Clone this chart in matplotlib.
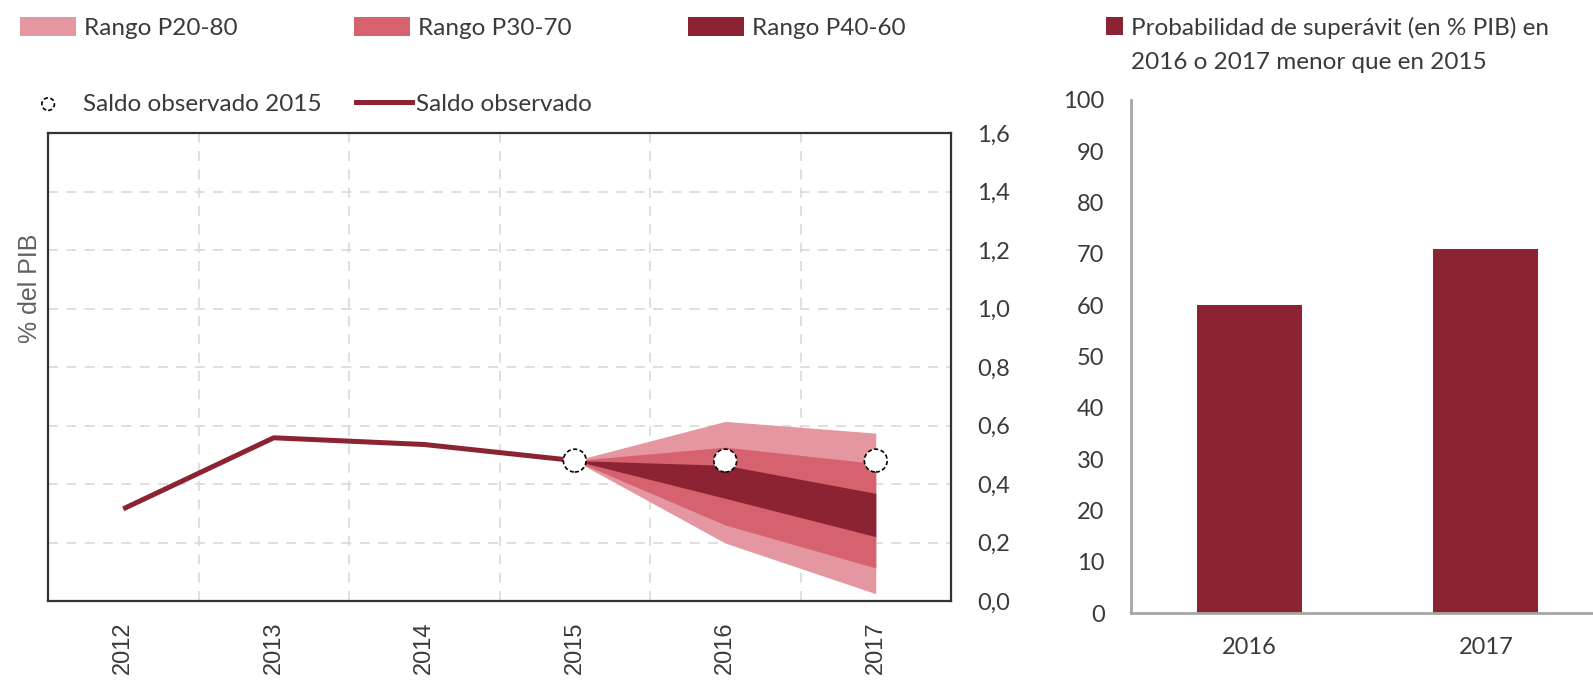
import matplotlib
matplotlib.use("Agg")
import matplotlib.pyplot as plt
from matplotlib.patches import Patch, Rectangle
from matplotlib.lines import Line2D
from matplotlib.legend_handler import HandlerBase

plt.rcParams['font.family'] = ['Lato', 'DejaVu Sans']

# ---------------- data ----------------
years_obs = [2012, 2013, 2014, 2015]
saldo_obs = [0.315, 0.558, 0.535, 0.48]

fan_years = [2015, 2016, 2017]
p20 = [0.48, 0.198, 0.025]
p30 = [0.48, 0.260, 0.113]
p40 = [0.48, 0.351, 0.220]
p60 = [0.48, 0.464, 0.368]
p70 = [0.48, 0.526, 0.470]
p80 = [0.48, 0.614, 0.574]

circle_years = [2015, 2016, 2017]
circle_vals = [0.48, 0.48, 0.48]

year_labels = ["2012", "2013", "2014", "2015", "2016", "2017"]
yticks_left = [0.0, 0.2, 0.4, 0.6, 0.8, 1.0, 1.2, 1.4, 1.6]
yticklabels_left = ["0,0", "0,2", "0,4", "0,6", "0,8", "1,0", "1,2", "1,4", "1,6"]

bar_cats = ["2016", "2017"]
bar_vals = [60, 71]
yticks_right = [0, 10, 20, 30, 40, 50, 60, 70, 80, 90, 100]

# ---------------- style ----------------
LIGHT = "#E497A0"
MED = "#D6616F"
DARK = "#8B2332"
TXT = "#3a3a3a"
W, H = 1593, 689

fig = plt.figure(figsize=(W / 100, H / 100), dpi=100)

# ---------------- left chart ----------------
axL = fig.add_axes([48 / W, 1 - 601 / H, (951 - 48) / W, (601 - 133) / H])
axL.fill_between(fan_years, p20, p80, color=LIGHT, lw=0, zorder=2)
axL.fill_between(fan_years, p30, p70, color=MED, lw=0, zorder=2)
axL.fill_between(fan_years, p40, p60, color=DARK, lw=0, zorder=2)
axL.plot(years_obs, saldo_obs, color=DARK, lw=3.6, solid_capstyle='butt', zorder=3)
circ = axL.scatter(circle_years, circle_vals, s=270, facecolor='white', edgecolor='black',
                   linewidths=1.2, linestyles=(0, (2.5, 1.5)), zorder=5)

axL.set_xlim(2011.5, 2017.5)
axL.set_ylim(0, 1.6)
axL.set_xticks(range(2012, 2018))
axL.set_xticklabels(year_labels, rotation=90, family=['Liberation Sans', 'DejaVu Sans'],
                    fontsize=17, color=TXT)
axL.set_xticks([y + 0.5 for y in range(2012, 2017)], minor=True)
axL.yaxis.tick_right()
axL.set_yticks(yticks_left)
axL.set_yticklabels(yticklabels_left, fontsize=17, color=TXT)
axL.tick_params(axis='both', which='both', length=0)
axL.tick_params(axis='x', pad=15)
axL.tick_params(axis='y', pad=19)
axL.grid(True, which='minor', axis='x', color='#d9d9d9', lw=1.2, ls=(0, (6, 5)), zorder=0)
axL.grid(True, which='major', axis='y', color='#d9d9d9', lw=1.2, ls=(0, (6, 5)), zorder=0)
axL.grid(False, which='major', axis='x')
for sp in axL.spines.values():
    sp.set_color('#333333')
    sp.set_linewidth(1.6)
axL.set_axisbelow(True)

fig.text(30 / W, 1 - 288 / H, "% del PIB", rotation=90, ha='center', va='center',
         fontsize=18, color='#606060', family=['Liberation Sans', 'DejaVu Sans'])

# ---------------- right chart ----------------
axR = fig.add_axes([1131 / W, 1 - 613 / H, (W - 1131) / W, (613 - 100) / H])
xpos = list(range(len(bar_cats)))
axR.bar(xpos, bar_vals, width=0.445, color=DARK, zorder=2)
axR.set_xlim(-0.5, 1.453)
axR.set_ylim(0, 100)
axR.set_yticks(yticks_right)
axR.set_yticklabels([str(v) for v in yticks_right], fontsize=17, color=TXT)
axR.set_xticks(xpos)
axR.set_xticklabels(bar_cats, fontsize=17, color=TXT)
axR.tick_params(axis='both', length=0)
axR.tick_params(axis='y', pad=19)
axR.tick_params(axis='x', pad=17)
for s in ['top', 'right']:
    axR.spines[s].set_visible(False)
for s in ['left', 'bottom']:
    axR.spines[s].set_color('#a6a6a6')
    axR.spines[s].set_linewidth(2)

# ---------------- legends ----------------
FS = 17.5


def place_legend(handles, x_px, y_px, **kw):
    opts = dict(loc='center left', bbox_to_anchor=(x_px / W, 1 - y_px / H), frameon=False,
                borderpad=0, borderaxespad=0, fontsize=FS, handletextpad=0.35,
                labelcolor=TXT)
    opts.update(kw)
    return fig.legend(handles=handles, **opts)


place_legend([Patch(facecolor=LIGHT, label="Rango P20-80")], 20, 28,
             handlelength=2.3, handleheight=0.8)
place_legend([Patch(facecolor=MED, label="Rango P30-70")], 354, 28,
             handlelength=2.3, handleheight=0.8)
place_legend([Patch(facecolor=DARK, label="Rango P40-60")], 688, 28,
             handlelength=2.3, handleheight=0.8)

place_legend([circ], 36, 104, handlelength=1.0, markerscale=0.55, handletextpad=0.95,
             labels=["Saldo observado 2015"])
place_legend([Line2D([], [], color=DARK, lw=3.6, label="Saldo observado")], 356, 104,
             handlelength=2.3, handletextpad=0.15)


class UpperSquare(HandlerBase):
    def create_artists(self, legend, orig_handle, xdescent, ydescent, width, height,
                       fontsize, trans):
        s = 0.72 * fontsize
        dy = 13.5
        r = Rectangle((-xdescent + width - s, -ydescent + (height - s) / 2 + dy), s, s,
                      facecolor=DARK, edgecolor='none', transform=trans)
        return [r]


legR = place_legend([Patch(facecolor=DARK)], 1105, 45, handlelength=0.75,
                    handletextpad=0.3,
                    labels=["Probabilidad de superávit (en % PIB) en\n2016 o 2017 menor que en 2015"],
                    handler_map={Patch: UpperSquare()})
for t in legR.get_texts():
    t.set_linespacing(1.75)

fig.savefig("out.png", dpi=100)
